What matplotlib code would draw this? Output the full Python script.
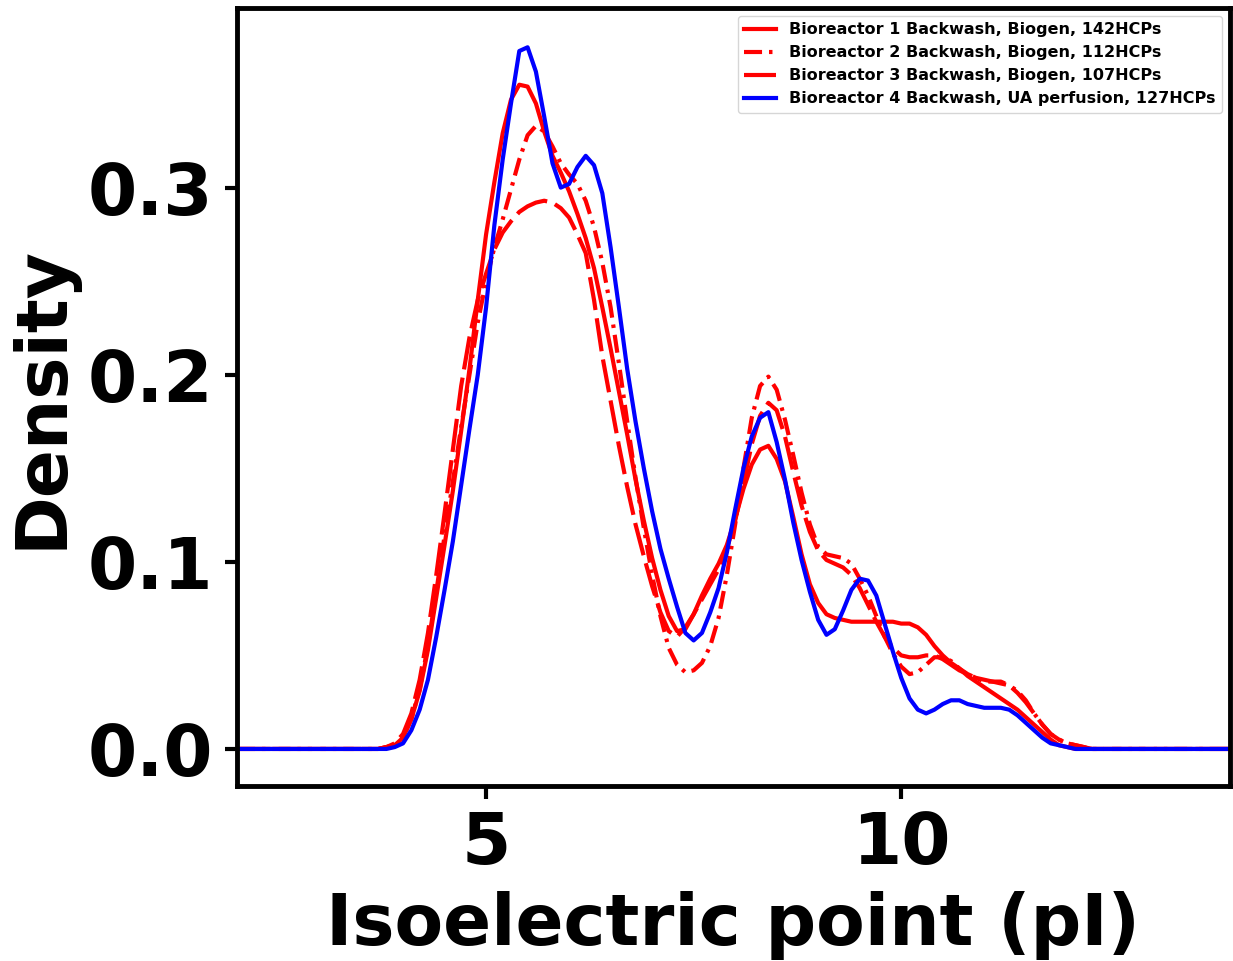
import numpy as np
import matplotlib
matplotlib.use("Agg")
import matplotlib.pyplot as plt

plt.rcParams["font.family"] = ["DejaVu Sans"]
plt.rcParams["font.weight"] = "bold"
plt.rcParams["lines.scale_dashes"] = False

# pI grid on which the density curves are tabulated (3.5 ... 12.5, step 0.1)
pI_grid = np.round(np.arange(35, 126) / 10.0, 1)
pI_left, pI_right = 2.0, 14.0

# Density values of each sample along pI_grid
bio1_density = [
    0, 0, 0, 0.001, 0.002, 0.006, 0.016, 0.031, 0.053, 0.081,
    0.109, 0.138, 0.170, 0.203, 0.240, 0.275, 0.303, 0.329, 0.347, 0.355,
    0.354, 0.345, 0.330, 0.317, 0.308, 0.298, 0.286, 0.273, 0.257, 0.236,
    0.214, 0.191, 0.168, 0.144, 0.122, 0.102, 0.085, 0.071, 0.063, 0.064,
    0.072, 0.082, 0.091, 0.099, 0.109, 0.123, 0.139, 0.152, 0.160, 0.162,
    0.155, 0.143, 0.124, 0.104, 0.088, 0.078, 0.072, 0.070, 0.069, 0.068,
    0.068, 0.068, 0.068, 0.068, 0.068, 0.067, 0.067, 0.065, 0.061, 0.055,
    0.050, 0.046, 0.043, 0.039, 0.036, 0.033, 0.030, 0.027, 0.024, 0.021,
    0.017, 0.013, 0.009, 0.005, 0.002, 0.001, 0, 0, 0, 0, 0,
]
bio2_density = [
    0, 0, 0, 0.001, 0.002, 0.006, 0.016, 0.032, 0.055, 0.084,
    0.114, 0.143, 0.172, 0.200, 0.228, 0.250, 0.268, 0.283, 0.299, 0.315,
    0.328, 0.333, 0.330, 0.322, 0.313, 0.307, 0.302, 0.293, 0.279, 0.260,
    0.236, 0.206, 0.175, 0.145, 0.118, 0.093, 0.071, 0.054, 0.045, 0.041,
    0.042, 0.046, 0.055, 0.070, 0.093, 0.120, 0.150, 0.177, 0.194, 0.199,
    0.192, 0.176, 0.157, 0.137, 0.120, 0.108, 0.104, 0.103, 0.102, 0.099,
    0.091, 0.082, 0.071, 0.060, 0.051, 0.044, 0.040, 0.041, 0.045, 0.049,
    0.049, 0.047, 0.043, 0.040, 0.038, 0.036, 0.036, 0.035, 0.034, 0.031,
    0.026, 0.019, 0.013, 0.008, 0.005, 0.003, 0.002, 0.001, 0, 0, 0,
]
bio3_density = [
    0, 0, 0, 0.001, 0.003, 0.008, 0.019, 0.037, 0.062, 0.093,
    0.126, 0.160, 0.194, 0.220, 0.240, 0.254, 0.267, 0.276, 0.282, 0.287,
    0.290, 0.292, 0.293, 0.292, 0.289, 0.284, 0.275, 0.265, 0.240, 0.210,
    0.186, 0.162, 0.140, 0.120, 0.103, 0.087, 0.073, 0.063, 0.060, 0.065,
    0.072, 0.080, 0.088, 0.096, 0.107, 0.122, 0.142, 0.163, 0.178, 0.185,
    0.181, 0.167, 0.148, 0.130, 0.116, 0.106, 0.101, 0.099, 0.097, 0.093,
    0.086, 0.077, 0.068, 0.060, 0.054, 0.050, 0.049, 0.049, 0.050, 0.050,
    0.048, 0.045, 0.042, 0.040, 0.038, 0.037, 0.036, 0.036, 0.034, 0.030,
    0.025, 0.019, 0.013, 0.008, 0.005, 0.003, 0.002, 0.001, 0, 0, 0,
]
bio4_density = [
    0, 0, 0, 0, 0.001, 0.003, 0.010, 0.021, 0.037, 0.060,
    0.085, 0.111, 0.141, 0.171, 0.200, 0.236, 0.280, 0.315, 0.345, 0.373,
    0.375, 0.362, 0.338, 0.313, 0.300, 0.302, 0.311, 0.317, 0.312, 0.297,
    0.268, 0.236, 0.203, 0.175, 0.150, 0.127, 0.107, 0.091, 0.076, 0.062,
    0.058, 0.062, 0.073, 0.086, 0.105, 0.128, 0.150, 0.167, 0.177, 0.180,
    0.164, 0.144, 0.121, 0.101, 0.084, 0.069, 0.061, 0.064, 0.074, 0.085,
    0.091, 0.090, 0.082, 0.067, 0.052, 0.038, 0.027, 0.021, 0.019, 0.021,
    0.024, 0.026, 0.026, 0.024, 0.023, 0.022, 0.022, 0.022, 0.021, 0.018,
    0.014, 0.010, 0.006, 0.003, 0.002, 0.001, 0, 0, 0, 0, 0,
]

series_labels = [
    "Bioreactor 1 Backwash, Biogen, 142HCPs",
    "Bioreactor 2 Backwash, Biogen, 112HCPs",
    "Bioreactor 3 Backwash, Biogen, 107HCPs",
    "Bioreactor 4 Backwash, UA perfusion, 127HCPs",
]
series_values = [bio1_density, bio2_density, bio3_density, bio4_density]
series_colors = ["red", "red", "red", "blue"]
series_dashes = [None, (13, 5, 2.5, 5), (24, 6), None]

x_ticks = [5, 10]
y_ticks = [0.0, 0.1, 0.2, 0.3]

fig = plt.figure(figsize=(12.33, 9.61), dpi=100)
ax = fig.add_axes([237 / 1233, 1 - 786 / 961, 993 / 1233, 778 / 961])

x_full = np.concatenate([[pI_left], pI_grid, [pI_right]])
for vals, lab, col, dash in zip(series_values, series_labels, series_colors, series_dashes):
    y_full = np.concatenate([[0.0], vals, [0.0]])
    line, = ax.plot(x_full, y_full, color=col, lw=3, label=lab,
                    solid_joinstyle="round", dash_joinstyle="round")
    if dash is not None:
        line.set_dashes(dash)

ax.set_xlim(2.0, 13.96)
ax.set_ylim(-0.0198, 0.396)
ax.set_xticks(x_ticks)
ax.set_yticks(y_ticks)
ax.set_xticklabels([str(t) for t in x_ticks])
ax.set_yticklabels([f"{t:.1f}" for t in y_ticks])
ax.tick_params(axis="both", labelsize=51, length=9, width=3, pad=8)
for lbl in ax.get_xticklabels() + ax.get_yticklabels():
    lbl.set_fontweight("bold")
for sp in ax.spines.values():
    sp.set_linewidth(3.5)
    sp.set_color("black")

ax.set_xlabel("Isoelectric point (pI)", fontsize=51, fontweight="bold", labelpad=9)
ax.set_ylabel("Density", fontsize=51, fontweight="bold", labelpad=8)

leg = ax.legend(loc="upper right", prop={"size": 11.5, "weight": "bold"},
                borderaxespad=0.5)

fig.savefig("out.png", dpi=100)
